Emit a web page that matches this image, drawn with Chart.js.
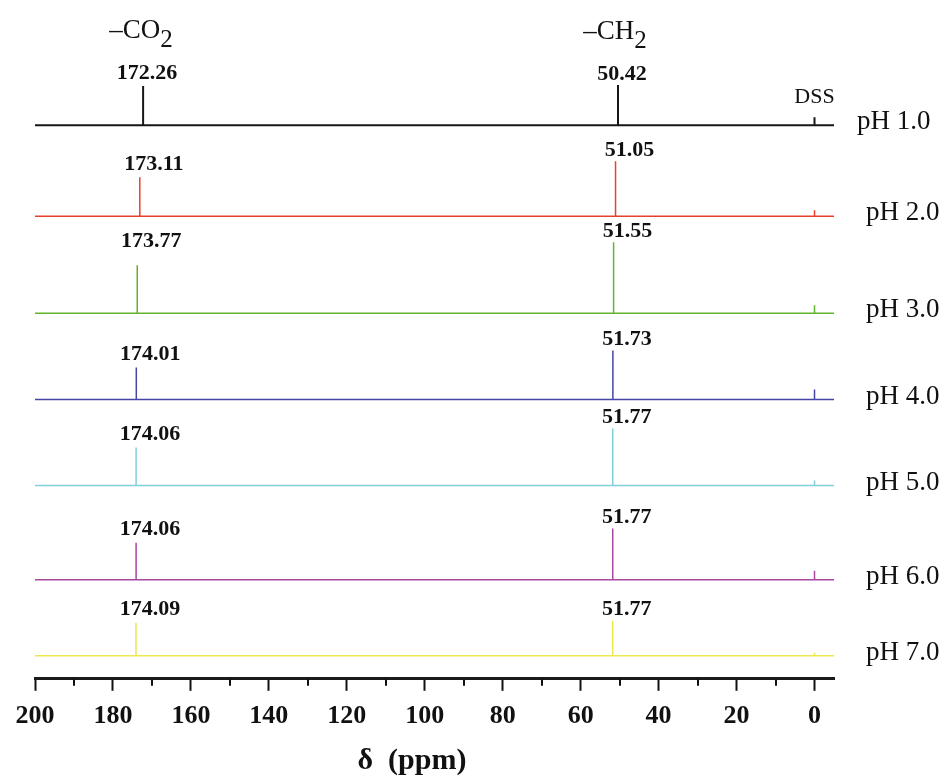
<!DOCTYPE html>
<html>
<head>
<meta charset="utf-8">
<script src="https://cdn.jsdelivr.net/npm/chart.js@4.4.1/dist/chart.umd.min.js"></script>
<style>
  html, body { margin: 0; background: #fff; }
  #wrap { width: 948px; height: 776px; }
</style>
</head>
<body>
<div id="wrap"><canvas id="nmr"></canvas></div>
<script>
// ── 13C NMR spectra of the sample at pH 1–7 ─────────────────────────
const phLabels = ['pH 1.0', 'pH 2.0', 'pH 3.0', 'pH 4.0', 'pH 5.0', 'pH 6.0', 'pH 7.0'];
const ppmCO2   = [172.26, 173.11, 173.77, 174.01, 174.06, 174.06, 174.09];
const ppmCH2   = [50.42, 51.05, 51.55, 51.73, 51.77, 51.77, 51.77];
const ppmDSS   = 0;
// peak heights (arbitrary units)
const hCO2     = [39, 39, 48, 32, 38, 37, 33];
const hCH2     = [40, 55, 71, 49, 57, 51, 35];
const hDSS     = [8, 6, 8, 10, 5, 9, 3];
// vertical stacking offset of each spectrum
const offsets  = [553, 462, 365, 279, 193, 99, 23];
const xTicks   = [200, 190, 180, 170, 160, 150, 140, 130, 120, 110, 100, 90, 80, 70, 60, 50, 40, 30, 20, 10, 0];
const xMin = -5, xMax = 200;
const colors   = ['#161616', '#e8412c', '#62b32f', '#4545a2', '#80d0dc', '#a9479f', '#ebe84e'];

const FONT = '"Liberation Serif", "Times New Roman", serif';

function spike(pos, base, h) {
  return [{ x: pos, y: base }, { x: pos, y: base + h }, { x: pos, y: base }];
}

function trace(i) {
  const b = offsets[i];
  return [
    { x: xMax, y: b },
    ...spike(ppmCO2[i], b, hCO2[i]),
    ...spike(ppmCH2[i], b, hCH2[i]),
    ...spike(ppmDSS, b, hDSS[i]),
    { x: xMin, y: b }
  ];
}

// peak values, group names, pH names, minor ticks
const annotate = {
  id: 'annotate',
  afterDraw(chart) {
    const { ctx, chartArea, scales: { x, y } } = chart;
    ctx.save();
    ctx.fillStyle = '#111';

    // minor ticks every 10 ppm
    ctx.strokeStyle = '#111';
    ctx.lineWidth = 2;
    xTicks.filter(v => v % 20 !== 0).forEach(v => {
      const px = Math.round(x.getPixelForValue(v));
      ctx.beginPath();
      ctx.moveTo(px, chartArea.bottom);
      ctx.lineTo(px, chartArea.bottom + 7);
      ctx.stroke();
    });

    ctx.textAlign = 'center';
    ctx.textBaseline = 'middle';
    ctx.font = `bold 22px ${FONT}`;
    offsets.forEach((b, i) => {
      const dx = i === 0 ? 4 : 14;
      const gap = i === 2 ? 24 : 13;
      ctx.fillText(String(ppmCO2[i]), x.getPixelForValue(ppmCO2[i]) + dx, y.getPixelForValue(b + hCO2[i]) - gap);
      ctx.fillText(String(ppmCH2[i]), x.getPixelForValue(ppmCH2[i]) + dx, y.getPixelForValue(b + hCH2[i]) - 11);
    });

    ctx.font = `22px ${FONT}`;
    ctx.fillText('DSS', x.getPixelForValue(ppmDSS), y.getPixelForValue(offsets[0]) - 28);

    ctx.textAlign = 'left';
    ctx.font = `27px ${FONT}`;
    phLabels.forEach((t, i) => {
      ctx.fillText(t, i === 0 ? 857 : 866, y.getPixelForValue(offsets[i]) - 3);
    });

    // group labels with subscript 2
    const group = (main, cx, cy) => {
      ctx.font = `27px ${FONT}`;
      const w1 = ctx.measureText(main).width;
      ctx.font = `25px ${FONT}`;
      const w2 = ctx.measureText('2').width;
      const left = cx - (w1 + w2) / 2;
      ctx.font = `27px ${FONT}`;
      ctx.fillText(main, left, cy);
      ctx.font = `25px ${FONT}`;
      ctx.fillText('2', left + w1, cy + 9);
    };
    group('\u2013CO', x.getPixelForValue(ppmCO2[0]) - 2, 31);
    group('\u2013CH', x.getPixelForValue(ppmCH2[0]) - 3, 32);

    ctx.restore();
  }
};

new Chart(document.getElementById('nmr'), {
  type: 'scatter',
  data: {
    datasets: phLabels.map((label, i) => ({
      label,
      data: trace(i),
      showLine: true,
      borderColor: colors[i],
      backgroundColor: colors[i],
      borderWidth: i === 0 ? 2 : 1.5,
      pointRadius: 0,
      tension: 0
    }))
  },
  options: {
    responsive: true,
    maintainAspectRatio: false,
    animation: false,
    layout: { padding: { left: 35, right: 114, top: 0, bottom: 0 } },
    plugins: { legend: { display: false }, tooltip: { enabled: false } },
    scales: {
      x: {
        type: 'linear',
        reverse: true,
        min: xMin,
        max: xMax,
        afterBuildTicks: s => { s.ticks = xTicks.map(value => ({ value })); },
        border: { display: true, color: '#1a1a1a', width: 3 },
        grid: {
          display: true,
          drawOnChartArea: false,
          drawTicks: true,
          tickLength: 12,
          tickWidth: 2,
          tickColor: c => (c.tick && c.tick.value % 20 === 0) ? '#111' : 'rgba(0,0,0,0)'
        },
        ticks: {
          autoSkip: false,
          maxRotation: 0,
          padding: 10,
          color: '#111',
          font: { family: FONT, size: 26, weight: 'bold' },
          callback: v => (v % 20 === 0 ? String(v) : '')
        },
        title: {
          display: true,
          text: '\u03b4\u00a0\u00a0(ppm)' + '\u00a0'.repeat(6),
          color: '#111',
          font: { family: FONT, size: 30, weight: 'bold', lineHeight: 1 },
          padding: { top: 4, bottom: 0 }
        }
      },
      y: { display: false, min: 0, max: 678 }
    }
  },
  plugins: [annotate]
});
</script>
</body>
</html>
